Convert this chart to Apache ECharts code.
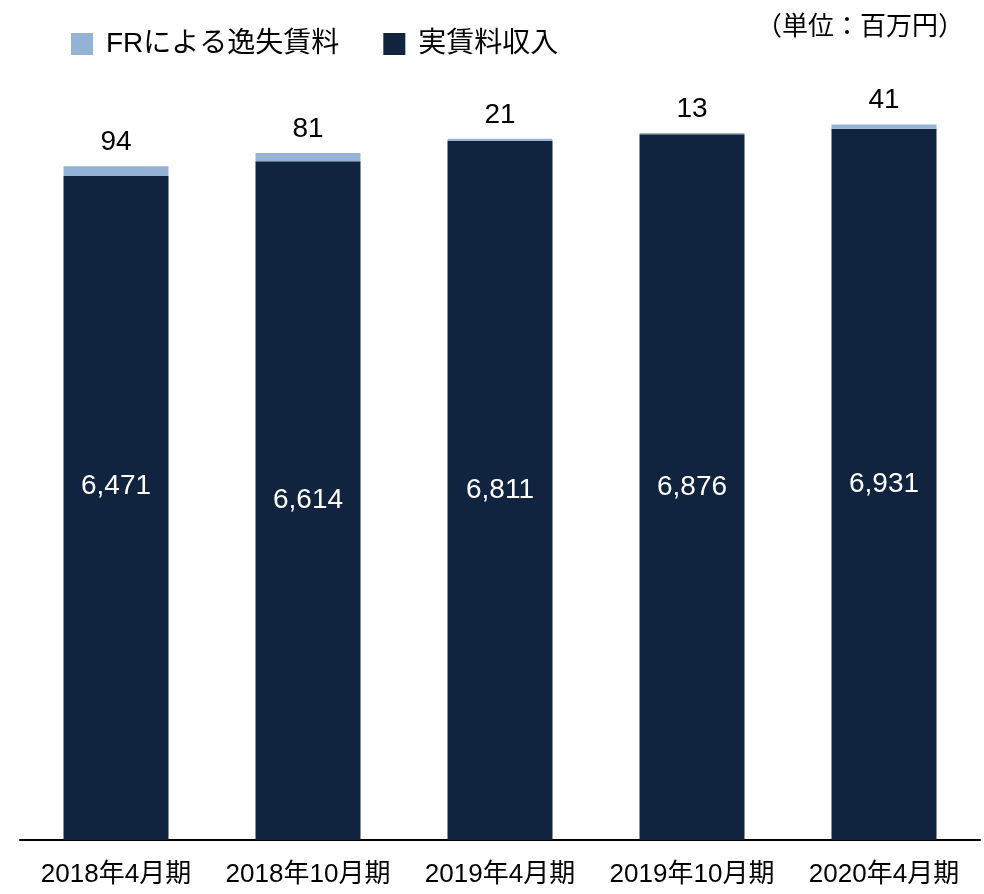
<!DOCTYPE html>
<html>
<head>
<meta charset="utf-8">
<script src="https://cdn.jsdelivr.net/npm/echarts@6/dist/echarts.min.js"></script>
<style>
  html, body { margin: 0; padding: 0; background: #fff; }
  #chart { width: 984px; height: 894px; }
</style>
</head>
<body>
<div id="chart"></div>
<script>
const periods = ["2018年4月期", "2018年10月期", "2019年4月期", "2019年10月期", "2020年4月期"];
const rentIncome = [6471, 6614, 6811, 6876, 6931];
const lostRent = [94, 81, 21, 13, 41];

const fontFamily = "'Liberation Sans', 'Noto Sans CJK JP', sans-serif";
const darkColor = "#11243f";
const lightColor = "#95b3d7";
const numberFormatter = new Intl.NumberFormat("en-US");

const chart = echarts.init(document.getElementById("chart"), null, { renderer: "canvas" });

chart.setOption({
  animation: false,
  textStyle: { fontFamily },
  title: {
    text: "（単位：百万円）",
    right: 15,
    top: 10,
    textStyle: { color: "#000", fontSize: 26, fontWeight: "normal", fontFamily },
  },
  legend: {
    data: ["FRによる逸失賃料", "実賃料収入"],
    left: 66,
    top: 25,
    icon: "rect",
    itemWidth: 22,
    itemHeight: 22,
    itemGap: 44,
    textStyle: {
      color: "#000",
      fontSize: 28,
      lineHeight: 28,
      padding: [0, 0, 0, 8],
      fontFamily,
    },
  },
  grid: {
    left: 20,
    right: 4,
    top: 19,
    bottom: 54,
    containLabel: false,
  },
  xAxis: {
    type: "category",
    data: periods,
    axisLine: { lineStyle: { color: "#000", width: 2 } },
    axisTick: { show: false },
    axisLabel: {
      color: "#000",
      fontSize: 26,
      margin: 22,
      interval: 0,
      fontFamily,
    },
  },
  yAxis: {
    type: "value",
    min: 0,
    max: 8000,
    show: false,
    splitLine: { show: false },
  },
  series: [
    {
      name: "実賃料収入",
      type: "bar",
      stack: "total",
      barWidth: 105,
      itemStyle: { color: darkColor },
      data: rentIncome.map((v, i) =>
        i === 0 ? { value: v, label: { offset: [0, -22] } } : v
      ),
      label: {
        show: true,
        position: "inside",
        color: "#fff",
        fontSize: 28,
        fontFamily,
        formatter: (p) => numberFormatter.format(p.value),
      },
    },
    {
      name: "FRによる逸失賃料",
      type: "bar",
      stack: "total",
      barWidth: 105,
      itemStyle: { color: lightColor },
      data: lostRent,
      label: {
        show: true,
        position: "top",
        distance: 10,
        color: "#000",
        fontSize: 28,
        fontFamily,
      },
    },
  ],
});
</script>
</body>
</html>
